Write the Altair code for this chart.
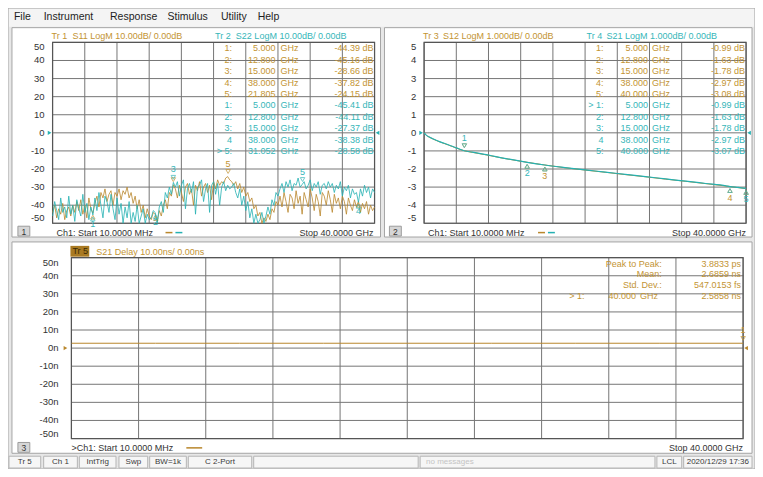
import altair as alt
import numpy as np
import pandas as pd

# ---------------- data ----------------
# linear sweep of the instrument: Start 10 MHz, Stop 40 GHz, 161 points
sweep_ghz = np.linspace(0.01, 40.0, 161)

s11_db = [-44, -40, -47, -42, -45, -39, -48, -43, -41, -46, -40, -44, -38,
          -43, -37, -45, -40, -47, -36, -42, -44.4,
          -39, -35, -41, -33, -36, -31, -38, -34, -32, -40, -33, -35, -31, -37,
          -32, -34, -30, -36, -33, -39, -35, -42, -37, -44, -40, -47, -42, -46,
          -48, -44, -45.2, -49, -43, -46, -40, -37, -42, -33, -35, -28.7,
          -31, -36, -29, -33, -38, -30, -28, -34, -31, -40, -29, -32, -27, -35,
          -30, -28, -33, -29, -37, -27, -31, -26, -29, -27, -28, -25, -24.2, -26,
          -27, -29, -27, -31, -28, -33, -30, -35, -33, -38, -36, -42, -40, -46,
          -44, -50, -47, -49, -45, -48, -42, -44, -38, -40,
          -35, -41, -33, -38, -44, -34, -36, -42, -32, -39, -35, -45, -33, -37,
          -41, -31, -36, -43, -34, -38, -46, -33, -35, -40, -32, -37, -44, -34,
          -39, -36, -42, -35, -38, -45, -36, -40, -43, -37, -41, -37.8, -44, -39,
          -42, -38, -45, -40, -43, -41]

s22_db = [-46, -38, -43, -48, -36, -44, -41, -47, -35, -45, -40, -49, -37,
          -42, -46, -34, -44, -39, -48, -41, -45.4,
          -36, -43, -33, -40, -47, -35, -38, -44, -34, -42, -48, -36, -45, -39,
          -50, -41, -47, -38, -50, -44, -49, -40, -50, -46, -42, -50, -45, -48,
          -47, -43, -44.1, -50, -41, -38, -44, -33, -36, -30, -34, -27.4,
          -30, -27, -35, -29, -26, -42, -31, -28, -33, -27, -45, -30, -29, -26,
          -38, -31, -28, -44, -29, -27, -34, -28, -40, -30, -27, -32, -29, -31,
          -30, -28, -33, -36, -31, -40, -35, -43, -38, -47, -42, -50, -45, -50,
          -48, -44, -50, -46, -41, -45, -37, -40, -33, -35,
          -31, -28, -33, -27, -30, -26, -32, -28, -29, -25, -30, -28.6, -27, -31,
          -29, -26, -32, -28, -30, -27, -34, -29, -28, -31, -27, -30, -28, -33,
          -29, -31, -27, -35, -30, -32, -29, -36, -31, -34, -33, -38.4, -31, -35,
          -29, -33, -30, -36, -31, -33]

s21_freq = [0.01, 0.3, 0.6, 1.0, 1.5, 2.0, 3.0, 4.0, 5.0, 6.0, 7.5, 10.0, 12.8,
            15.0, 17.5, 20.0, 22.5, 25.0, 27.5, 30.0, 32.5, 35.0, 37.5, 38.0, 39.0, 40.0]
s21_db = [0.0, -0.14, -0.22, -0.31, -0.41, -0.50, -0.66, -0.83, -0.99, -1.07, -1.19,
          -1.41, -1.63, -1.78, -1.92, -2.05, -2.17, -2.30, -2.42, -2.55, -2.67,
          -2.80, -2.93, -2.97, -3.02, -3.07]
s12_db = [0.0, -0.15, -0.23, -0.32, -0.42, -0.51, -0.67, -0.84, -0.99, -1.08, -1.20,
          -1.42, -1.63, -1.78, -1.93, -2.06, -2.18, -2.31, -2.43, -2.56, -2.68,
          -2.81, -2.94, -2.97, -3.03, -3.08]

delay_freq = [0.01, 5, 10, 15, 20, 25, 30, 35, 40]
delay_ns = [2.6852, 2.6861, 2.6870, 2.6849, 2.6858, 2.6866, 2.6855, 2.6862, 2.6858]

freq_div = [0, 4, 8, 12, 16, 20, 24, 28, 32, 36, 40]
logm1_ticks = [50, 40, 30, 20, 10, 0, -10, -20, -30, -40, -50]
logm2_ticks = [5, 4, 3, 2, 1, 0, -1, -2, -3, -4, -5]
delay_ticks = [50, 40, 30, 20, 10, 0, -10, -20, -30, -40, -50]

s11_mk_f = [5.0, 12.8, 15.0, 38.0, 21.805]
s11_mk_v = [-44.39, -45.16, -28.66, -37.82, -24.15]
s22_mk_f = [5.0, 12.8, 15.0, 38.0, 31.052]
s22_mk_v = [-45.41, -44.11, -27.37, -38.38, -28.58]
s12_mk_f = [5.0, 12.8, 15.0, 38.0, 40.0]
s12_mk_v = [-0.99, -1.63, -1.78, -2.97, -3.08]
s21_mk_f = [5.0, 12.8, 15.0, 38.0, 40.0]
s21_mk_v = [-0.99, -1.63, -1.78, -2.97, -3.07]
mk_names_s11 = ["1:", "2:", "3:", "4:", "5:"]
mk_names_s22 = ["1:", "2:", "3:", "4", "> 5:"]
mk_names_s12 = ["1:", "2:", "3:", "4:", "5:"]
mk_names_s21 = ["> 1:", "2:", "3:", "4", "5:"]

stats_labels = ["Peak to Peak:", "Mean:", "Std. Dev.:"]
stats_values = ["3.8833 ps", "2.6859 ns", "547.0153 fs"]
delay_mk_f = [40.0]
delay_mk_v = [2.5858]

menu_items = ["File", "Instrument", "Response", "Stimulus", "Utility", "Help"]
status_items = ["Tr 5", "Ch 1", "IntTrig", "Swp", "BW=1k", "C 2-Port", "",
                "no messages", "LCL", "2020/12/29 17:36"]

# ---------------- layout / style ----------------
SX = 747 / 754.0
SY = 461 / 469.0


def X(px):
    return round((px - 8) * SX, 2)


def Y(py):
    return round((py - 8) * SY, 2)


FONT = "Liberation Sans"
GOLD_T = "#c39433"
TEAL_T = "#36b6b9"
GOLD = "#b9872c"
TEAL = "#25b1b3"
GRID = "#767676"
EDGE = "#555555"
INK = "#2b2b2b"
SMALL = 9

one = pd.DataFrame({"k": [0]})
layers = []


def rect(x0, y0, x1, y1, fill, stroke=None, sw=1.0):
    kw = {"fill": fill}
    if stroke is not None:
        kw["stroke"] = stroke
        kw["strokeWidth"] = sw
    else:
        kw["strokeWidth"] = 0
    layers.append(alt.Chart(one).mark_rect(**kw).encode(
        x=alt.value(X(x0)), x2=alt.value(X(x1)), y=alt.value(Y(y0)), y2=alt.value(Y(y1))))


def text(t, x, y, color=INK, size=SMALL, align="left", weight="normal"):
    layers.append(alt.Chart(one).mark_text(
        text=t, align=align, baseline="middle", font=FONT, fontSize=size,
        color=color, fontWeight=weight).encode(x=alt.value(X(x)), y=alt.value(Y(y))))


def hline(x0, x1, y, color, sw=1.5):
    layers.append(alt.Chart(one).mark_rule(color=color, strokeWidth=sw).encode(
        x=alt.value(X(x0)), x2=alt.value(X(x1)), y=alt.value(Y(y))))


def panel_grid(px0, px1, py0, py1, ydom, ticks, fmt, lab_x):
    xs = alt.Scale(domain=[0, 40], range=[X(px0), X(px1)], nice=False, zero=False)
    ys = alt.Scale(domain=ydom, range=[Y(py1), Y(py0)], nice=False, zero=False)
    layers.append(alt.Chart(pd.DataFrame({"f": freq_div})).mark_rule(
        color=GRID, strokeWidth=1).encode(
        x=alt.X("f:Q", scale=xs, axis=None), y=alt.value(Y(py0)), y2=alt.value(Y(py1))))
    layers.append(alt.Chart(pd.DataFrame({"v": ticks})).mark_rule(
        color=GRID, strokeWidth=1).encode(
        y=alt.Y("v:Q", scale=ys, axis=None), x=alt.value(X(px0)), x2=alt.value(X(px1))))
    layers.append(alt.Chart(one).mark_rect(fill=None, stroke=EDGE, strokeWidth=1.2).encode(
        x=alt.value(X(px0)), x2=alt.value(X(px1)), y=alt.value(Y(py0)), y2=alt.value(Y(py1))))
    td = pd.DataFrame({"v": ticks, "lab": [fmt(t) for t in ticks]})
    for sub, dy in ((td.iloc[1:-1], 0), (td.iloc[:1], 5), (td.iloc[-1:], -5)):
        layers.append(alt.Chart(sub).mark_text(
            align="right", baseline="middle", font=FONT, fontSize=9.5, color="#333333", dy=dy).encode(
            y=alt.Y("v:Q", scale=ys, axis=None), x=alt.value(X(lab_x)), text="lab:N"))
    return xs, ys


def trace(f, v, color, xs, ys, sw=0.9, interp="linear"):
    d = pd.DataFrame({"f": list(f), "v": list(v)})
    layers.append(alt.Chart(d).mark_line(color=color, strokeWidth=sw, interpolate=interp).encode(
        x=alt.X("f:Q", scale=xs, axis=None), y=alt.Y("v:Q", scale=ys, axis=None)))


def markers(f, v, color, xs, ys, above, labelled, dn_dy=11):
    d = pd.DataFrame({"f": f, "v": v, "n": [str(i + 1) for i in range(len(f))]})
    enc = dict(x=alt.X("f:Q", scale=xs, axis=None), y=alt.Y("v:Q", scale=ys, axis=None))
    for is_up in (True, False):
        sub = d[d["n"].isin(above) == is_up]
        if not len(sub):
            continue
        layers.append(alt.Chart(sub).mark_point(
            shape="triangle-down" if is_up else "triangle-up", filled=False, color=color,
            size=20, strokeWidth=1, yOffset=-5 if is_up else 4).encode(**enc))
        lab = sub[sub["n"].isin(labelled)]
        if len(lab):
            layers.append(alt.Chart(lab).mark_text(
                dy=-13 if is_up else dn_dy, color=color, font=FONT, fontSize=SMALL,
                baseline="middle").encode(text="n:N", **enc))


def table(names_a, f_a, v_a, names_b, f_b, v_b, cols, row0, row1):
    n = len(names_a) + len(names_b)
    d = pd.DataFrame({
        "row": list(range(n)),
        "name": names_a + names_b,
        "freq": ["%.3f" % x for x in f_a + f_b],
        "unit": ["GHz"] * n,
        "val": ["%.2f dB" % x for x in v_a + v_b],
        "s": ["a"] * len(names_a) + ["b"] * len(names_b),
    })
    rs = alt.Scale(domain=[0, n - 1], range=[Y(row0), Y(row1)], nice=False, zero=False)
    cs = alt.Scale(domain=["a", "b"], range=[GOLD_T, TEAL_T])
    for field, xpos, al in (("name", cols[0], "right"), ("freq", cols[1], "right"),
                            ("unit", cols[2], "left"), ("val", cols[3], "right")):
        layers.append(alt.Chart(d).mark_text(align=al, baseline="middle", font=FONT, fontSize=SMALL).encode(
            y=alt.Y("row:Q", scale=rs, axis=None), x=alt.value(X(xpos)), text=field + ":N",
            color=alt.Color("s:N", scale=cs, legend=None)))


def ref_arrow(xpos, val, shape, color, ys):
    layers.append(alt.Chart(pd.DataFrame({"v": [val]})).mark_point(
        shape=shape, filled=True, color=color, size=18, opacity=1).encode(
        x=alt.value(X(xpos)), y=alt.Y("v:Q", scale=ys, axis=None)))


# ---------------- window chrome ----------------
rect(8, 8, 762, 477, "#e7e7e7", "#a8a8a8")
rect(9, 9, 761, 27, "#f4f4f4")
menu_x = [14, 44, 111, 169, 223, 260]
for item, mx in zip(menu_items, menu_x):
    text(item, mx, 17.5, "#1e1e1e", 10.5)

# panel frames
rect(12, 28, 384, 241, "#ffffff", "#a5a5a5")
rect(388, 28, 759, 241, "#ffffff", "#a5a5a5")
rect(12, 246, 759, 461, "#ffffff", "#a5a5a5")

# ---------------- panel 1 : S11 / S22 LogM ----------------
xs1, ys1 = panel_grid(53, 378, 43, 227, [-50, 50], logm1_ticks, lambda t: str(t), 45)
trace(sweep_ghz, s11_db, GOLD, xs1, ys1, 0.8)
trace(sweep_ghz, s22_db, TEAL, xs1, ys1, 0.8)
markers(s11_mk_f, s11_mk_v, GOLD_T, xs1, ys1, above={"3", "5"}, labelled={"5"}, dn_dy=9)
markers(s22_mk_f, s22_mk_v, TEAL_T, xs1, ys1, above={"3", "5"},
        labelled={"1", "2", "3", "4", "5"}, dn_dy=9)
table(mk_names_s11, s11_mk_f, s11_mk_v, mk_names_s22, s22_mk_f, s22_mk_v,
      (234, 278, 283, 377), 49, 153.4)
ref_arrow(50, 0, "triangle-right", TEAL, ys1)
ref_arrow(381, 0, "triangle-left", TEAL, ys1)
text("Tr 1", 52, 36, GOLD_T)
text("S11 LogM 10.00dB/ 0.00dB", 73, 36, GOLD_T)
text("Tr 2", 217, 36, TEAL_T)
text("S22 LogM 10.00dB/ 0.00dB", 238, 36, TEAL_T)
rect(18, 230, 30, 240, "#d6d6d6", "#9c9c9c")
text("1", 24, 235.5, "#333333", 8.5, "center")
text("Ch1:  Start  10.0000 MHz", 57, 236.5, "#333333")
hline(167, 174, 236.5, GOLD)
hline(177, 184, 236.5, TEAL)
text("Stop  40.0000 GHz", 377, 236.5, "#333333", SMALL, "right")

# ---------------- panel 2 : S12 / S21 LogM ----------------
xs2, ys2 = panel_grid(428, 753, 43, 227, [-5, 5], logm2_ticks, lambda t: str(t), 420)
trace(s21_freq, s12_db, GOLD, xs2, ys2, 1.0, "monotone")
trace(s21_freq, s21_db, TEAL, xs2, ys2, 1.2, "monotone")
markers(s12_mk_f, s12_mk_v, GOLD_T, xs2, ys2, above={"1"}, labelled={"3", "4"})
markers(s21_mk_f, s21_mk_v, TEAL_T, xs2, ys2, above={"1"}, labelled={"1", "2", "5"})
table(mk_names_s12, s12_mk_f, s12_mk_v, mk_names_s21, s21_mk_f, s21_mk_v,
      (609, 654, 658, 752), 49, 153.4)
ref_arrow(425, 0, "triangle-right", TEAL, ys2)
ref_arrow(756, 0, "triangle-left", TEAL, ys2)
text("Tr 3", 427, 36, GOLD_T)
text("S12 LogM 1.000dB/ 0.00dB", 447, 36, GOLD_T)
text("Tr 4", 592, 36, TEAL_T)
text("S21 LogM 1.000dB/ 0.00dB", 612, 36, TEAL_T)
rect(393, 230, 405, 240, "#d6d6d6", "#9c9c9c")
text("2", 399, 235.5, "#333333", 8.5, "center")
text("Ch1:  Start  10.0000 MHz", 432, 236.5, "#333333")
hline(543, 550, 236.5, GOLD)
hline(553, 560, 236.5, TEAL)
text("Stop  40.0000 GHz", 753, 236.5, "#333333", SMALL, "right")

# ---------------- panel 3 : S21 Delay ----------------
xs3, ys3 = panel_grid(72, 750, 262, 446, [-50, 50], delay_ticks, lambda t: "%dn" % t, 59)
trace(delay_freq, delay_ns, GOLD, xs3, ys3, 1.0)
markers(delay_mk_f, delay_mk_v, GOLD_T, xs3, ys3, above={"1"}, labelled={"1"})
ref_arrow(66, 0, "triangle-right", GOLD, ys3)
ref_arrow(753, 0, "triangle-left", GOLD, ys3)
rect(71, 250, 90, 261, "#a97a22")
text("Tr 5", 73, 255.5, "#3a2a06")
text("S21 Delay 10.00ns/ 0.00ns", 97, 256, GOLD_T)
stats = pd.DataFrame({"row": [0, 1, 2], "lab": stats_labels, "val": stats_values})
rs3 = alt.Scale(domain=[0, 3], range=[Y(268), Y(301)], nice=False, zero=False)
layers.append(alt.Chart(stats).mark_text(align="right", baseline="middle", font=FONT,
                                         fontSize=SMALL, color=GOLD_T).encode(
    y=alt.Y("row:Q", scale=rs3, axis=None), x=alt.value(X(668)), text="lab:N"))
layers.append(alt.Chart(stats).mark_text(align="right", baseline="middle", font=FONT,
                                         fontSize=SMALL, color=GOLD_T).encode(
    y=alt.Y("row:Q", scale=rs3, axis=None), x=alt.value(X(748)), text="val:N"))
mk3 = pd.DataFrame({"row": [3], "name": ["> 1:"], "freq": ["%.3f" % delay_mk_f[0]],
                    "unit": ["GHz"], "val": ["%.4f ns" % delay_mk_v[0]]})
for field, xpos, al in (("name", 590, "right"), ("freq", 642, "right"),
                        ("unit", 646, "left"), ("val", 748, "right")):
    layers.append(alt.Chart(mk3).mark_text(align=al, baseline="middle", font=FONT,
                                           fontSize=SMALL, color=GOLD_T).encode(
        y=alt.Y("row:Q", scale=rs3, axis=None), x=alt.value(X(xpos)), text=field + ":N"))
rect(18, 450, 30, 460, "#d6d6d6", "#9c9c9c")
text("3", 24, 455.5, "#333333", 8.5, "center")
text(">Ch1:  Start  10.0000 MHz", 72, 455.5, "#333333")
hline(188, 204, 455.5, GOLD)
text("Stop  40.0000 GHz", 750, 455.5, "#333333", SMALL, "right")

# ---------------- status bar ----------------
status_boxes = [(9, 41), (44, 78), (80, 117), (120, 149), (151, 188), (190, 254),
                (256, 422), (424, 661), (663, 688), (690, 759)]
for item, (b0, b1) in zip(status_items, status_boxes):
    rect(b0, 464, b1, 476, "#f6f6f6", "#b5b5b5")
    if item == "no messages":
        text(item, b0 + 6, 470, "#c4c4c4", 8)
    elif item:
        text(item, (b0 + b1) / 2, 470, "#3a3a3a", 8, "center")

chart = alt.layer(*layers).resolve_scale(x="independent", y="independent").properties(
    width=747, height=461, padding=0,
    autosize=alt.AutoSizeParams(type="none"),
    background="#ffffff",
).configure_view(strokeWidth=0)

chart.save("out.html", embed_options={"renderer": "svg", "actions": False})
